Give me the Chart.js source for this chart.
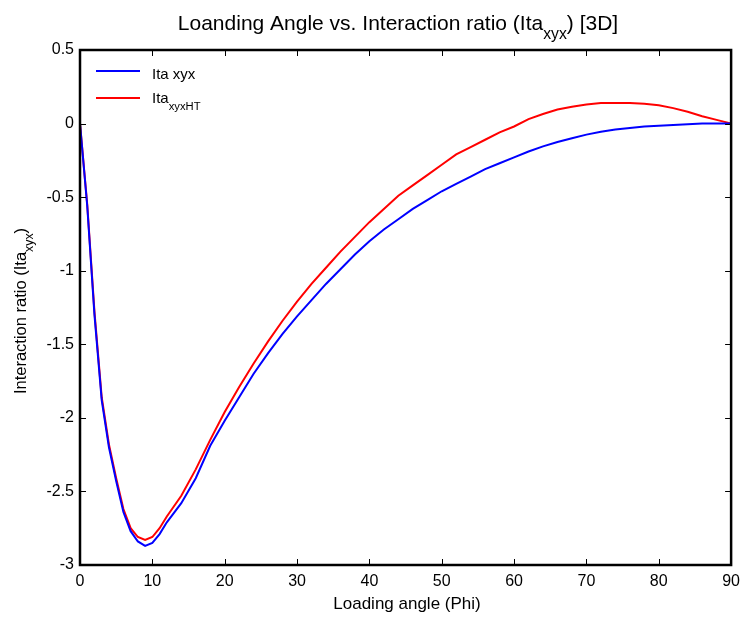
<!DOCTYPE html>
<html>
<head>
<meta charset="utf-8">
<script src="https://cdn.jsdelivr.net/npm/chart.js@4"></script>
<style>
  html, body { margin: 0; padding: 0; background: #fff; }
  #phiChart { display: block; }
</style>
</head>
<body>
<canvas id="phiChart" width="747" height="617"></canvas>
<script>
// loading angle (deg)
const PHI = [0, 1, 2, 3, 4, 5, 6, 7, 8, 9, 10, 11, 12,
    14, 16, 18, 20, 22, 24, 26, 28, 30, 32, 34, 36, 38, 40, 42, 44, 46, 48, 50,
    52, 54, 56, 58, 60, 62, 64, 66, 68, 70, 72, 74, 76, 78, 80, 82, 84, 86, 88, 90];

const ITA_XYX = [0, -0.56, -1.3, -1.88, -2.2, -2.43, -2.64, -2.77, -2.84, -2.87, -2.85, -2.79, -2.71,
    -2.58, -2.41, -2.19, -2.02, -1.86, -1.70, -1.56, -1.43, -1.31, -1.20, -1.09, -0.99, -0.89, -0.80,
    -0.72, -0.65, -0.58, -0.52, -0.46, -0.41, -0.36, -0.31, -0.27, -0.23, -0.19, -0.155, -0.125,
    -0.10, -0.075, -0.055, -0.04, -0.03, -0.02, -0.015, -0.01, -0.005, 0, 0, 0];

const ITA_XYX_HT = [0, -0.55, -1.28, -1.86, -2.18, -2.41, -2.62, -2.75, -2.81, -2.83, -2.81, -2.75, -2.67,
    -2.53, -2.35, -2.15, -1.96, -1.79, -1.63, -1.48, -1.34, -1.21, -1.09, -0.98, -0.87, -0.77, -0.67,
    -0.58, -0.49, -0.42, -0.35, -0.28, -0.21, -0.16, -0.11, -0.06, -0.02, 0.03, 0.065, 0.095,
    0.115, 0.13, 0.14, 0.14, 0.14, 0.135, 0.125, 0.105, 0.08, 0.05, 0.025, 0];

const X_TICKS = [0, 10, 20, 30, 40, 50, 60, 70, 80, 90];
const Y_TICKS = [0.5, 0, -0.5, -1, -1.5, -2, -2.5, -3];

const FONT = "'Liberation Sans', Arial, sans-serif";

function toPts(xs, ys) {
    return xs.map((x, i) => ({ x: x, y: ys[i] }));
}

// text with a subscript part: [[text, isSub], ...]
function drawRich(c, parts, x, y, size, align) {
    const sub = size * 0.75;
    let total = 0;
    const widths = parts.map(p => {
        c.font = (p[1] ? sub : size) + "px " + FONT;
        const w = c.measureText(p[0]).width;
        total += w;
        return w;
    });
    let cx = align === "center" ? x - total / 2 : x;
    c.textAlign = "left";
    c.textBaseline = "alphabetic";
    parts.forEach((p, i) => {
        c.font = (p[1] ? sub : size) + "px " + FONT;
        c.fillText(p[0], cx, p[1] ? y + size * 0.45 : y);
        cx += widths[i];
    });
}

const decor = {
    id: "decor",
    afterDraw(chart) {
        const c = chart.ctx;
        const a = chart.chartArea;
        const xs = chart.scales.x, ys = chart.scales.y;
        c.save();
        c.fillStyle = "#000";
        c.strokeStyle = "#000";

        // inward ticks on all sides
        c.lineWidth = 1;
        c.beginPath();
        X_TICKS.forEach(t => {
            const px = Math.round(xs.getPixelForValue(t)) + 0.5;
            c.moveTo(px, a.bottom); c.lineTo(px, a.bottom - 6);
            c.moveTo(px, a.top); c.lineTo(px, a.top + 6);
        });
        Y_TICKS.forEach(t => {
            const py = Math.round(ys.getPixelForValue(t)) + 0.5;
            c.moveTo(a.left, py); c.lineTo(a.left + 6, py);
            c.moveTo(a.right, py); c.lineTo(a.right - 6, py);
        });
        c.stroke();

        // frame
        c.lineWidth = 2.5;
        c.strokeRect(a.left, a.top, a.right - a.left, a.bottom - a.top);

        // title
        drawRich(c, [["Loanding Angle vs. Interaction ratio (Ita", false], ["xyx", true], [") [3D]", false]],
            398, 30, 21, "center");

        // x title
        c.font = "17px " + FONT;
        c.textAlign = "center";
        c.fillText("Loading angle (Phi)", 407, 609);

        // y title (rotated)
        c.save();
        c.translate(26, 311);
        c.rotate(-Math.PI / 2);
        drawRich(c, [["Interaction ratio (Ita", false], ["xyx", true], [")", false]], 0, 0, 16.5, "center");
        c.restore();

        // legend
        const lx = 96, ly1 = 71, ly2 = 98;
        c.lineWidth = 2;
        c.strokeStyle = "#0000ff";
        c.beginPath(); c.moveTo(lx, ly1); c.lineTo(lx + 44, ly1); c.stroke();
        c.strokeStyle = "#ff0000";
        c.beginPath(); c.moveTo(lx, ly2); c.lineTo(lx + 44, ly2); c.stroke();
        c.fillStyle = "#000";
        drawRich(c, [["Ita xyx", false]], 152, 79, 15, "left");
        drawRich(c, [["Ita", false], ["xyxHT", true]], 152, 103, 15, "left");

        c.restore();
    }
};

const ctx = document.getElementById("phiChart").getContext("2d");

const phiChart = new Chart(ctx, {
    type: "line",
    data: {
        datasets: [{
            label: "Ita xyx",
            data: toPts(PHI, ITA_XYX),
            borderColor: "#0000ff",
            borderWidth: 2,
            pointRadius: 0,
            tension: 0
        }, {
            label: "Ita xyxHT",
            data: toPts(PHI, ITA_XYX_HT),
            borderColor: "#ff0000",
            borderWidth: 2,
            pointRadius: 0,
            tension: 0
        }]
    },
    options: {
        responsive: false,
        animation: false,
        devicePixelRatio: 1,
        layout: { padding: { top: 50, right: 14, left: 0, bottom: 0 } },
        plugins: {
            legend: { display: false },
            tooltip: { enabled: false }
        },
        scales: {
            x: {
                type: "linear",
                min: 0,
                max: 90,
                afterFit: s => { s.height = 52; },
                afterBuildTicks: s => { s.ticks = X_TICKS.map(v => ({ value: v })); },
                grid: { display: false, drawTicks: false },
                border: { display: false },
                ticks: { color: "#000", padding: 7, autoSkip: false, maxRotation: 0,
                         callback: v => String(v), font: { family: FONT, size: 16 } }
            },
            y: {
                min: -3,
                max: 0.5,
                afterFit: s => { s.width = 80; },
                afterBuildTicks: s => { s.ticks = Y_TICKS.map(v => ({ value: v })); },
                grid: { display: false, drawTicks: false },
                border: { display: false },
                ticks: { color: "#000", padding: 6, autoSkip: false,
                         callback: v => String(v), font: { family: FONT, size: 16 } }
            }
        }
    },
    plugins: [decor]
});
</script>
</body>
</html>
